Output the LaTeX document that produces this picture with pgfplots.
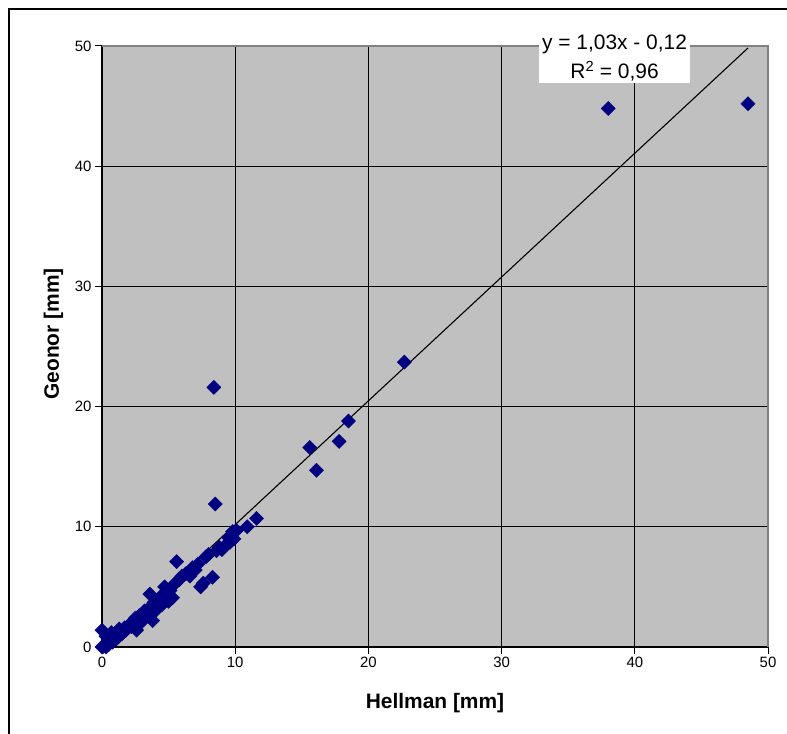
\documentclass[border=0pt]{standalone}
\usepackage{pgfplots}
\pgfplotsset{compat=1.18}
\usepackage{fontspec}
\setmainfont{Liberation Sans}
\definecolor{plotbg}{HTML}{C0C0C0}
\definecolor{navy}{HTML}{000080}
\definecolor{edge}{HTML}{808080}

\pgfplotstableread{
x y
0.0 0.0
0.1 0.05
0.2 0.1
0.3 0.0
0.4 0.3
0.5 0.2
0.6 0.5
0.8 0.4
0.9 0.7
1.0 0.6
1.1 1.0
1.2 0.8
1.3 1.5
1.4 1.3
1.5 1.1
1.7 1.6
1.8 1.4
2.0 1.8
2.2 1.7
2.4 2.2
2.5 2.4
2.6 1.4
2.8 2.6
2.9 2.0
3.0 2.5
3.2 3.0
3.4 2.9
3.5 3.2
3.6 4.4
3.8 2.2
3.9 3.7
4.0 3.0
4.2 3.8
4.4 4.2
4.5 3.5
4.7 5.0
4.9 4.6
5.0 3.8
5.1 4.7
5.3 4.1
5.5 5.3
5.6 7.1
5.8 5.6
6.0 5.9
6.3 6.1
6.6 5.9
6.8 6.6
7.0 6.4
7.2 6.9
7.4 5.0
7.6 5.3
7.8 7.5
8.0 7.7
8.3 5.8
8.4 21.6
8.5 11.9
8.6 8.0
8.8 8.3
9.0 8.1
9.3 8.5
9.5 9.1
9.6 8.7
9.8 9.6
9.9 9.0
10.1 9.7
10.9 10.0
11.6 10.7
15.6 16.6
16.1 14.7
17.8 17.1
18.5 18.8
22.7 23.7
38.0 44.8
48.5 45.2
0.0 1.4
0.3 0.9
0.7 1.2
}\datatable

\begin{document}
\begin{tikzpicture}[x=1bp,y=1bp]
\useasboundingbox (0,0) rectangle (787,734);
\begin{axis}[
    at={(102bp,87bp)}, anchor=south west,
    scale only axis, width=666bp, height=601bp,
    xmin=0, xmax=50, ymin=0, ymax=50,
    xtick={0,10,...,50}, ytick={0,10,...,50},
    axis background/.style={fill=plotbg},
    grid=major,
    major grid style={black, line width=0.9bp},
    axis x line*=bottom, axis y line*=left,
    axis line style={black, line width=1.6bp, -},
    tick align=outside, major tick length=7bp,
    tick style={black, line width=1bp},
    /pgf/number format/assume math mode=true,
    ticklabel style={font=\fontsize{15}{17}\selectfont},
    label style={font=\bfseries\fontsize{21}{24}\selectfont},
    xlabel={Hellman [mm]},
    ylabel={Geonor [mm]},
    xlabel style={at={(axis description cs:0.5,-0.1015)}, anchor=base},
    ylabel style={at={(axis description cs:-0.0646,0.521)}, anchor=base},
    clip=false,
]
\addplot[only marks, mark=square*, mark size=5bp,
    mark options={rotate=45, fill=navy, draw=navy}] table {\datatable};
\addplot[black, line width=1.1bp] coordinates {(0.12,0.0036) (48.5,49.835)};
\draw[edge, line width=1.2bp] (rel axis cs:0,1) -- (rel axis cs:1,1) -- (rel axis cs:1,0);
\node[fill=white, align=center, inner xsep=3bp, inner ysep=1.5bp,
    font=\fontsize{21}{30}\selectfont]
    at (axis cs:38.48,49.0) {y = 1,03x - 0,12\\R\textsuperscript{2} = 0,96};
\end{axis}
\draw[black, line width=1.6bp] (9,-20) -- (9,725) -- (820,725);
\end{tikzpicture}
\end{document}
